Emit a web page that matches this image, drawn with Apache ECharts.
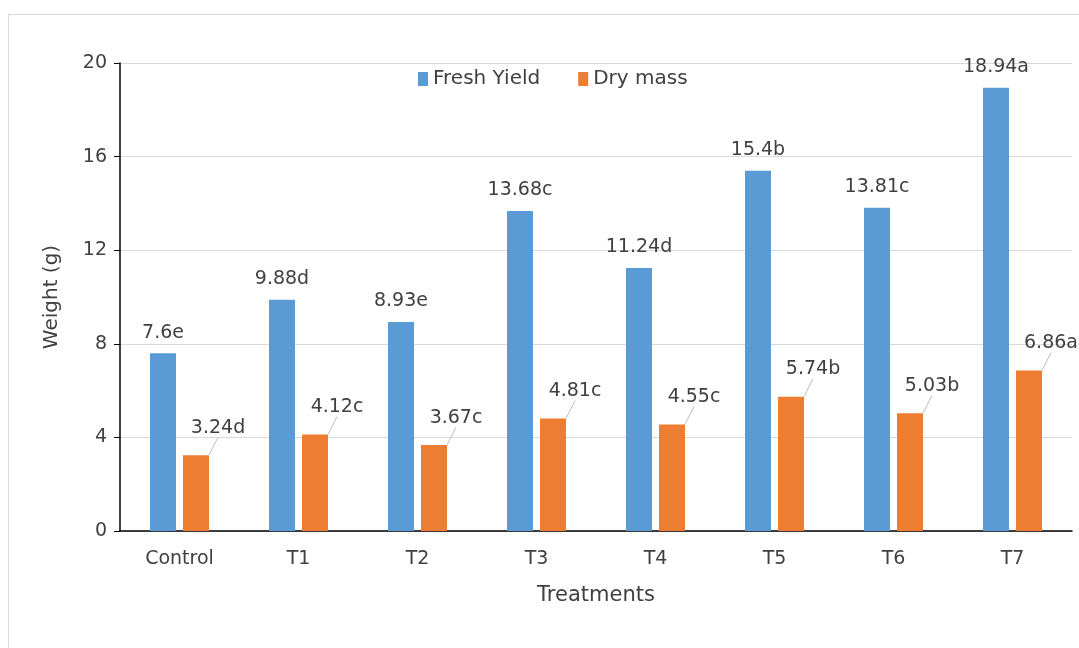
<!DOCTYPE html>
<html>
<head>
<meta charset="utf-8">
<script src="https://cdn.jsdelivr.net/npm/echarts@6/dist/echarts.min.js"></script>
<style>
html,body{margin:0;padding:0;background:#fff;}
#c{width:1079px;height:648px;}
</style>
</head>
<body>
<div id="c"></div>
<script>
var categories = ['Control', 'T1', 'T2', 'T3', 'T4', 'T5', 'T6', 'T7'];
var freshYield = [7.6, 9.88, 8.93, 13.68, 11.24, 15.4, 13.81, 18.94];
var freshLetters = ['e', 'd', 'e', 'c', 'd', 'b', 'c', 'a'];
var dryMass = [3.24, 4.12, 3.67, 4.81, 4.55, 5.74, 5.03, 6.86];
var dryLetters = ['d', 'c', 'c', 'c', 'c', 'b', 'b', 'a'];
var yTicks = [0, 4, 8, 12, 16, 20];

var FONT = 'DejaVu Sans';
var TXT = '#404040';
var chart = echarts.init(document.getElementById('c'));
chart.setOption({
  animation: false,
  backgroundColor: '#fff',
  graphic: [{
    type: 'rect', left: 6, top: 12, silent: true,
    shape: { width: 1200, height: 700 },
    style: { fill: 'none', stroke: '#d9d9d9', lineWidth: 1 }
  }],
  grid: { left: 120, right: 7, top: 63, bottom: 117 },
  legend: {
    left: 413, top: 64,
    itemWidth: 10, itemHeight: 14, itemGap: 38,
    icon: 'rect',
    textStyle: { fontFamily: FONT, fontSize: 20, color: TXT },
    data: ['Fresh Yield', 'Dry mass']
  },
  xAxis: {
    type: 'category',
    data: categories,
    name: 'Treatments',
    nameLocation: 'middle',
    nameGap: 54,
    nameTextStyle: { fontFamily: FONT, fontSize: 21, color: TXT },
    axisLine: { lineStyle: { color: '#000', width: 1.5 } },
    axisTick: { show: false },
    axisLabel: { fontFamily: FONT, fontSize: 19, color: TXT, margin: 19 }
  },
  yAxis: {
    type: 'value',
    min: yTicks[0], max: yTicks[yTicks.length - 1], interval: yTicks[1] - yTicks[0],
    name: 'Weight (g)',
    nameLocation: 'middle',
    nameGap: 58,
    nameTextStyle: { fontFamily: FONT, fontSize: 20, color: TXT },
    axisLine: { show: true, lineStyle: { color: '#000', width: 1.5 } },
    axisTick: { show: true, length: 6, lineStyle: { color: '#000' } },
    splitLine: { lineStyle: { color: '#d9d9d9', width: 1 } },
    axisLabel: { fontFamily: FONT, fontSize: 19, color: TXT, margin: 13 }
  },
  series: [{
    name: 'Fresh Yield',
    type: 'bar',
    data: freshYield,
    barWidth: 26,
    barGap: '27%',
    itemStyle: { color: '#5B9BD5' },
    label: {
      show: true, position: 'top', distance: 11,
      fontFamily: FONT, fontSize: 19, color: TXT,
      formatter: function (p) { return p.value + freshLetters[p.dataIndex]; }
    }
  }, {
    name: 'Dry mass',
    type: 'bar',
    data: dryMass,
    barWidth: 26,
    barGap: '27%',
    itemStyle: { color: '#ED7D31' },
    label: {
      show: true, position: 'top', distance: 6,
      fontFamily: FONT, fontSize: 19, color: TXT,
      formatter: function (p) { return p.value + dryLetters[p.dataIndex]; }
    },
    labelLine: { show: true, lineStyle: { color: '#bfbfbf', width: 1 } },
    labelLayout: function () { return { dx: 22, dy: -12 }; }
  }]
});
</script>
</body>
</html>
